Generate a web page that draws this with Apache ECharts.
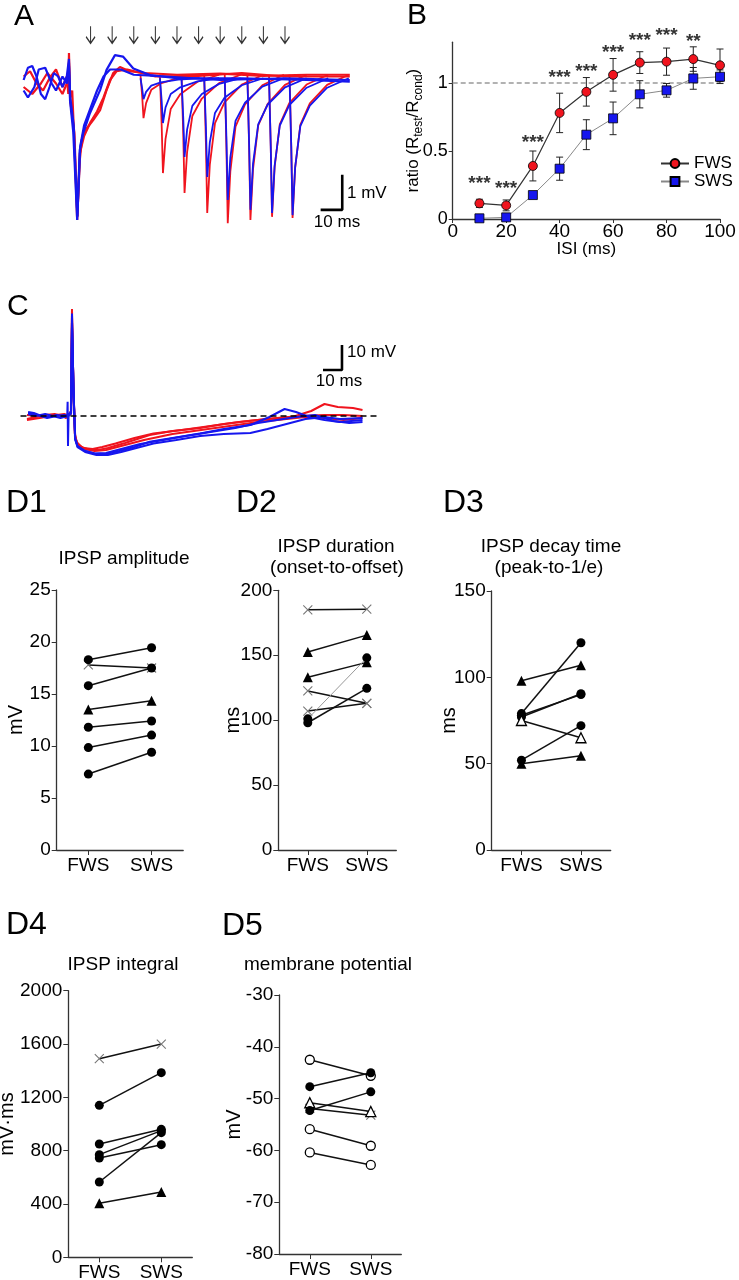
<!DOCTYPE html>
<html><head><meta charset="utf-8">
<script src="https://cdn.jsdelivr.net/npm/echarts@6/dist/echarts.min.js"></script>
<style>html,body{margin:0;padding:0;background:#fff}#c{width:739px;height:1280px}</style>
</head><body><div id="c"></div>
<script>
const FONT = "'Liberation Sans', Arial, Helvetica, sans-serif";
const RED = '#f0141e', BLUE = '#1616ee';

// ---------- Panel A: paired-pulse traces (t in ms, V in mV) ----------
const aISI = [10, 20, 30, 40, 50, 60, 70, 80, 90, 100];
const aRedCond = [
  [[-21,0.1],[-18,0.25],[-15,-0.1],[-12,-0.3],[-9,0.05],[-6,0.3],[-3,-0.2],[-1,0.1],[-0.3,-0.4],[0,0.77],[0.5,-0.5],[1.5,-0.3],[2.5,-1.8],[3.8,-4.0],[5,-2.3],[6,-1.7],[8,-1.4],[11.3,-1.14],[14.4,-0.86],[17.4,-0.29],[20.5,0.2],[23.6,0.37],[28,0.25],[35,0.2],[50,0.15],[70,0.18],[90,0.12],[110,0.15],[130,0.15]],
  [[-21,-0.2],[-17,-0.4],[-13,-0.1],[-10,0.2],[-6,-0.1],[-3,-0.4],[-1,-0.1],[0,0.5],[0.6,-0.6],[2.5,-1.5],[3.9,-3.9],[5,-2.1],[7,-1.6],[10,-1.2],[13,-0.9],[16,-0.5],[19,0.0],[22,0.25],[27,0.3],[40,0.1],[60,0.12],[80,0.2],[100,0.1],[130,0.1]]
];
const aBlueCond = [
  [[-21,0],[-19,0.35],[-17,0.4],[-15,0.1],[-13,-0.4],[-11,-0.55],[-9,-0.2],[-7,0.2],[-5,0.1],[-3,-0.2],[-1,0.1],[0,0.6],[0.5,-0.6],[2,-1.5],[3.8,-4.0],[5,-2.0],[6.6,-1.52],[9.7,-0.95],[14.4,-0.29],[17.4,0.29],[21.3,0.71],[25,0.67],[29.8,0.33],[37.5,0.14],[50,0.05],[80,0.05],[110,0],[130,-0.05]],
  [[-21,-0.3],[-19,-0.5],[-16,-0.2],[-14,0.3],[-11,0.35],[-8,-0.1],[-6,-0.3],[-3,0.1],[-1,-0.1],[0,0.4],[0.6,-0.5],[2.2,-1.3],[3.9,-3.9],[5.2,-1.9],[7,-1.3],[10,-0.8],[13,-0.3],[16,0.1],[19,0.3],[24,0.3],[30,0.15],[45,0.1],[70,0],[100,0.05],[130,0]]
];
const aRedDips = [
  [[33.1,0.15],[33.9,-0.47],[34.5,-1.09],[35.7,-0.66],[38.1,-0.28],[42.5,-0.10],[50.5,0.06],[60.5,0.15]],
  [[42.1,0.15],[42.9,-1.26],[43.5,-2.66],[44.7,-1.68],[47.1,-0.83],[51.5,-0.41],[59.5,-0.05],[69.5,0.15]],
  [[52.1,0.15],[52.9,-1.54],[53.5,-3.23],[54.7,-2.05],[57.1,-1.03],[61.5,-0.53],[69.5,-0.09],[79.5,0.15]],
  [[62.6,0.15],[63.4,-1.83],[64,-3.8],[65.2,-2.42],[67.6,-1.23],[72,-0.64],[80,-0.13],[90,0.15]],
  [[72.1,0.15],[72.9,-1.97],[73.5,-4.09],[74.7,-2.61],[77.1,-1.33],[81.5,-0.70],[89.5,-0.15],[99.5,0.15]],
  [[82.6,0.15],[83.4,-1.93],[84,-4.0],[85.2,-2.55],[87.6,-1.30],[92,-0.68],[100,-0.14],[110,0.15]],
  [[92.6,0.15],[93.4,-1.88],[94,-3.91],[95.2,-2.49],[97.6,-1.27],[102,-0.66],[110,-0.13],[120,0.15]],
  [[102.1,0.15],[102.9,-1.90],[103.5,-3.94],[104.7,-2.51],[107.1,-1.28],[111.5,-0.67],[119.5,-0.14],[129.5,0.15]]
];
const aBlueDips = [
  [[33.1,0.05],[33.9,-0.25],[34.5,-0.55],[35.7,-0.34],[38.1,-0.16],[42.5,-0.07],[50.5,0.01],[60.5,0.05]],
  [[42.1,0.05],[42.9,-0.59],[43.5,-1.23],[44.7,-0.78],[47.1,-0.40],[51.5,-0.21],[59.5,-0.04],[69.5,0.05]],
  [[52.1,0.05],[52.9,-1.08],[53.5,-2.2],[54.7,-1.41],[57.1,-0.74],[61.5,-0.40],[69.5,-0.11],[79.5,0.05]],
  [[62.6,0.05],[63.4,-1.36],[64,-2.77],[65.2,-1.78],[67.6,-0.94],[72,-0.51],[80,-0.15],[90,0.05]],
  [[72.1,0.05],[72.9,-1.69],[73.5,-3.43],[74.7,-2.21],[77.1,-1.17],[81.5,-0.65],[89.5,-0.19],[99.5,0.05]],
  [[82.6,0.05],[83.4,-1.83],[84,-3.71],[85.2,-2.39],[87.6,-1.27],[92,-0.70],[100,-0.21],[110,0.05]],
  [[92.6,0.05],[93.4,-1.88],[94,-3.8],[95.2,-2.45],[97.6,-1.30],[102,-0.72],[110,-0.22],[120,0.05]],
  [[102.1,0.05],[102.9,-1.91],[103.5,-3.86],[104.7,-2.49],[107.1,-1.32],[111.5,-0.73],[119.5,-0.22],[129.5,0.05]]
];

// ---------- Panel B: recovery ratio ----------
const bISI = [10, 20, 30, 40, 50, 60, 70, 80, 90, 100];
const bFWS = [0.115, 0.10, 0.39, 0.78, 0.935, 1.06, 1.15, 1.157, 1.176, 1.13];
const bFWSerr = [0.03, 0.04, 0.11, 0.145, 0.105, 0.12, 0.08, 0.10, 0.09, 0.12];
const bSWS = [0.005, 0.012, 0.176, 0.37, 0.62, 0.74, 0.917, 0.946, 1.034, 1.046];
const bSWSerr = [0, 0, 0.02, 0.085, 0.11, 0.12, 0.10, 0.05, 0.08, 0.05];
const bSigISI = [10, 20, 30, 40, 50, 60, 70, 80, 90];
const bSigLevel = [0.287, 0.25, 0.593, 1.07, 1.11, 1.25, 1.34, 1.38, 1.33];
const bSigText = ['***', '***', '***', '***', '***', '***', '***', '***', '**'];

// ---------- Panel C: IPSP traces (t in ms, V in mV rel. baseline) ----------
const cRed = [
  [[-21.6,-1.2],[-17,-0.4],[-12,0.4],[-7,0.8],[-3,0],[-1,-0.8],[0,0],[1.5,1],[2.1,42.8],[2.8,12],[3.6,-7],[4.5,-10.4],[7,-12.4],[11,-13.4],[16,-13.6],[21,-12.8],[30,-10.8],[43,-7.6],[55,-6],[69.5,-4.8],[82,-3.2],[95.8,-1.9],[110,-0.8],[122,0],[135,0.4],[145,0.4],[155,0]],
  [[-21.6,0.4],[-16,0],[-11,-0.4],[-6,0.4],[-2,0.8],[0,0.2],[1.6,2],[2.1,40],[2.9,10],[3.7,-8],[5,-11],[8,-12.8],[13,-13.2],[18,-12.4],[25,-11],[35,-8.8],[45,-7],[60,-5.6],[75,-4],[90,-2.4],[105,-1.2],[118,-0.4],[128,2],[135,4.8],[142,3.6],[150,3.2],[155,2.4]],
  [[-21.6,-1.6],[-15,-0.8],[-9,0],[-4,0.4],[0,0],[1.6,1],[2.1,38],[3,8],[3.8,-8.5],[5,-11.5],[9,-13.2],[14,-14],[20,-13.6],[28,-12],[40,-9.6],[55,-7.2],[70,-5.6],[85,-4],[100,-2.4],[115,-1.2],[125,-0.4],[135,-0.8],[145,-1.6],[155,-0.8]]
];
const cBlue = [
  [[-21,1.6],[-18,1.2],[-14,0],[-10,-0.4],[-6,0.4],[-2,-0.2],[-0.4,0],[-0.2,5.7],[0,-12],[0.3,0],[1.6,2],[2.1,41],[2.9,10],[3.7,-9],[5,-12],[9,-14],[14,-15],[20,-15.2],[27,-14],[35,-12.4],[43,-10.3],[55,-8.8],[69.5,-7],[82,-5.2],[96,-3.6],[106,-0.4],[114,2.8],[120,1.6],[127,-0.4],[135,-1.6],[143,-2.4],[155,-1.6]],
  [[-21,0.8],[-17,0],[-12,0.8],[-8,0],[-4,-0.8],[0,0],[1.6,1],[2.1,38],[3,8],[3.8,-9.5],[5,-12.5],[9,-14.4],[15,-15.6],[21,-15.6],[28,-14.4],[36,-12.8],[45,-11],[57,-9.6],[69.5,-8],[82,-7.2],[96,-6.8],[105,-5.2],[115,-3.2],[125,-1.2],[135,-0.4],[143,-1.2],[155,-0.8]],
  [[-21,1.2],[-16,0.4],[-11,-0.8],[-6,0],[-2,0.4],[0,0],[1.6,1],[2.1,36],[3,8],[3.8,-9],[5,-12],[9,-14],[14,-15],[20,-14.8],[28,-13.2],[38,-11.2],[50,-9.6],[62,-8],[75,-6.4],[88,-4.8],[100,-2.8],[110,-1.6],[120,-0.4],[130,0.4],[140,-2],[148,-2.8],[155,-2.4]]
];

// ---------- Panels D1-D5: paired values (FWS -> SWS) ----------
const dCats = ['FWS', 'SWS'];
const d1FWS = [18.3, 17.8, 15.8, 13.5, 11.8, 9.85, 7.3];
const d1SWS = [19.45, 17.5, 17.5, 14.35, 12.4, 11.05, 9.4];
const d1Kind = ['dot', 'cross', 'dot', 'tri', 'dot', 'dot', 'dot'];
const d2FWS = [185, 152.5, 133, 122.5, 107, 101, 98];
const d2SWS = [185.5, 165.5, 144.5, 113, 113, 148, 124.5];
const d2Kind = ['cross', 'tri', 'tri', 'cross', 'cross', 'dot', 'dot'];
const d3FWS = [98, 79, 78, 77, 75, 52, 50];
const d3SWS = [107, 120, 90, 90.5, 65, 72, 54.6];
const d3Kind = ['tri', 'dot', 'dot', 'dot', 'otri', 'dot', 'tri'];
const d4FWS = [1490, 1140, 850, 770, 745, 565, 405];
const d4SWS = [1600, 1385, 960, 950, 845, 935, 490];
const d4Kind = ['cross', 'dot', 'dot', 'dot', 'dot', 'dot', 'tri'];
const d5FWS = [-42.5, -47.7, -50.8, -51.9, -52.3, -55.9, -60.4];
const d5SWS = [-45.6, -45.0, -52.5, -53.2, -48.7, -59.1, -62.8];
const d5Kind = ['ocirc', 'dot', 'otri', 'cross', 'dot', 'ocirc', 'ocirc'];

// ---------- styles ----------
const MARK = {
  dot:   {symbol: 'circle', size: 9, item: {color: '#000'}},
  tri:   {symbol: 'triangle', size: 10, item: {color: '#000'}},
  ocirc: {symbol: 'circle', size: 9, item: {color: '#fff', borderColor: '#000', borderWidth: 1.3}},
  otri:  {symbol: 'triangle', size: 10, item: {color: '#fff', borderColor: '#000', borderWidth: 1.3}},
  cross: {symbol: 'path://M0,0L10,10M10,0L0,10', size: 9, item: {color: 'rgba(0,0,0,0)', borderColor: '#777', borderWidth: 1.1}}
};
const AX = '#333';

const grids = [
  {left: 23.6, top: 24, width: 326.2, height: 206.5},      // A
  {left: 452.7, top: 42.2, width: 267.3, height: 176.8},   // B
  {left: 18.6, top: 303.5, width: 362.9, height: 157.5},   // C
  {left: 56.7, top: 590, width: 126.5, height: 260},       // D1
  {left: 278.3, top: 590.3, width: 118, height: 259.7},    // D2
  {left: 491.7, top: 591, width: 119, height: 259},        // D3
  {left: 68.3, top: 990.7, width: 124, height: 266.6},     // D4
  {left: 279.3, top: 995, width: 122, height: 259}         // D5
].map(g => Object.assign({outerBoundsMode: 'none', containLabel: false}, g));

const xAxes = [], yAxes = [];
// A
xAxes.push({gridIndex: 0, type: 'value', min: -21, max: 130, show: false});
yAxes.push({gridIndex: 0, type: 'value', min: -4.3, max: 1.6, show: false});
// B
xAxes.push({gridIndex: 1, type: 'value', min: 0, max: 100, interval: 20,
  name: 'ISI (ms)', nameLocation: 'middle', nameGap: 22, nameMoveOverlap: false,
  nameTextStyle: {fontSize: 17, color: '#000', fontFamily: FONT},
  axisLine: {show: true, lineStyle: {color: AX, width: 1.3}},
  axisTick: {show: true, length: 4, lineStyle: {color: AX}},
  axisLabel: {fontSize: 19, color: '#000', fontFamily: FONT, margin: 3},
  splitLine: {show: false}});
yAxes.push({gridIndex: 1, type: 'value', min: 0, max: 1.3,
  name: 'ratio (R{sub|test}/R{sub|cond})', nameLocation: 'middle', nameGap: 28, nameRotate: 90, nameMoveOverlap: false,
  nameTextStyle: {fontSize: 17, color: '#000', fontFamily: FONT, lineHeight: 22,
    rich: {sub: {fontSize: 12, color: '#000', fontFamily: FONT, verticalAlign: 'bottom', lineHeight: 12}}},
  axisLine: {show: true, lineStyle: {color: AX, width: 1.3}},
  axisTick: {show: true, length: 4, lineStyle: {color: AX}, customValues: [0, 0.5, 1]},
  axisLabel: {fontSize: 18, color: '#000', fontFamily: FONT, margin: 5, customValues: [0, 0.5, 1]},
  splitLine: {show: false}});
// C
xAxes.push({gridIndex: 2, type: 'value', min: -26, max: 165, show: false});
yAxes.push({gridIndex: 2, type: 'value', min: -18, max: 45, show: false});
// D
function dAxes(g, min, max, interval, name, gap) {
  xAxes.push({gridIndex: g, type: 'category', data: dCats, boundaryGap: true,
    axisLine: {show: true, lineStyle: {color: AX, width: 1.3}},
    axisTick: {show: true, alignWithLabel: true, length: 5, lineStyle: {color: AX}},
    axisLabel: {fontSize: 19, color: '#000', fontFamily: FONT, margin: 6},
    splitLine: {show: false}});
  yAxes.push({gridIndex: g, type: 'value', min, max, interval,
    name, nameLocation: 'middle', nameGap: gap, nameRotate: 90, nameMoveOverlap: false,
    nameTextStyle: {fontSize: 20, color: '#000', fontFamily: FONT},
    axisLine: {show: true, lineStyle: {color: AX, width: 1.3}},
    axisTick: {show: true, length: 5, lineStyle: {color: AX}},
    axisLabel: {fontSize: 19, color: '#000', fontFamily: FONT, margin: 6, formatter: v => String(v)},
    splitLine: {show: false}});
}
dAxes(3, 0, 25, 5, 'mV', 30);
dAxes(4, 0, 200, 50, 'ms', 35);
dAxes(5, 0, 150, 50, 'ms', 32);
dAxes(6, 0, 2000, 400, 'mV·ms', 51);
dAxes(7, -80, -30, 10, 'mV', 35);

const series = [];
function trace(g, data, color, width, z) {
  series.push({type: 'line', xAxisIndex: g, yAxisIndex: g, data, showSymbol: false, symbol: 'none',
    lineStyle: {color, width}, silent: true, z: z || 2});
}
function segLine(g, data, width, z) {
  series.push({type: 'line', xAxisIndex: g, yAxisIndex: g, data, showSymbol: false, symbol: 'none',
    lineStyle: {color: '#000', width}, silent: true, z: z || 5});
}

// A traces
aRedCond.forEach(d => trace(0, d, RED, 2.2));
aRedDips.forEach(d => trace(0, d, RED, 1.8));
aBlueCond.forEach(d => trace(0, d, BLUE, 2.2, 3));
aBlueDips.forEach(d => trace(0, d, BLUE, 1.8, 3));
// A stimulus arrows
series.push({type: 'scatter', xAxisIndex: 0, yAxisIndex: 0, data: aISI.map(x => [x, 1.29]),
  symbol: 'path://M5,0L5,18M0,11L5,18L10,11', symbolSize: [9, 17], symbolKeepAspect: false,
  itemStyle: {color: 'rgba(0,0,0,0)', borderColor: '#000', borderWidth: 1.4}, silent: true, clip: false, z: 6});
// A scale bar (1 mV, 10 ms)
segLine(0, [[126.5, -2.71], [126.5, -3.71], [116.5, -3.71]], 2.6);

// B
series.push({type: 'line', xAxisIndex: 1, yAxisIndex: 1, data: [[0, 1], [100, 1]], showSymbol: false, symbol: 'none',
  lineStyle: {color: '#999', width: 1.3, type: [5, 3]}, silent: true, z: 1});
function errRender(params, api) {
  const x = api.value(0), lo = api.value(1), hi = api.value(2);
  if (hi - lo < 1e-6) return null;
  const a = api.coord([x, hi]), b = api.coord([x, lo]);
  const w = 3.5, st = {stroke: '#222', lineWidth: 1};
  return {type: 'group', children: [
    {type: 'line', shape: {x1: a[0], y1: a[1], x2: b[0], y2: b[1]}, style: st},
    {type: 'line', shape: {x1: a[0] - w, y1: a[1], x2: a[0] + w, y2: a[1]}, style: st},
    {type: 'line', shape: {x1: b[0] - w, y1: b[1], x2: b[0] + w, y2: b[1]}, style: st}
  ]};
}
series.push({type: 'custom', xAxisIndex: 1, yAxisIndex: 1, renderItem: errRender, silent: true, z: 2, clip: false,
  data: bISI.map((x, i) => [x, bSWS[i] - bSWSerr[i], bSWS[i] + bSWSerr[i]])});
series.push({type: 'custom', xAxisIndex: 1, yAxisIndex: 1, renderItem: errRender, silent: true, z: 2, clip: false,
  data: bISI.map((x, i) => [x, bFWS[i] - bFWSerr[i], bFWS[i] + bFWSerr[i]])});
series.push({name: 'SWS', type: 'line', xAxisIndex: 1, yAxisIndex: 1, data: bISI.map((x, i) => [x, bSWS[i]]),
  symbol: 'rect', symbolSize: 9, lineStyle: {color: '#888', width: 1},
  itemStyle: {color: BLUE, borderColor: '#000', borderWidth: 0.8}, silent: true, z: 3});
series.push({name: 'FWS', type: 'line', xAxisIndex: 1, yAxisIndex: 1, data: bISI.map((x, i) => [x, bFWS[i]]),
  symbol: 'circle', symbolSize: 9, lineStyle: {color: '#333', width: 1.2},
  itemStyle: {color: RED, borderColor: '#000', borderWidth: 0.8}, silent: true, z: 4});
series.push({type: 'scatter', xAxisIndex: 1, yAxisIndex: 1, clip: false, silent: true, z: 5,
  data: bSigISI.map((x, i) => [x, bSigLevel[i], bSigText[i]]), symbolSize: 1,
  itemStyle: {color: 'rgba(0,0,0,0)'},
  label: {show: true, position: 'inside', formatter: p => p.data[2], fontSize: 19, fontWeight: 'bold',
    color: '#000', fontFamily: FONT, offset: [0, 4]}});

// C traces
series.push({type: 'line', xAxisIndex: 2, yAxisIndex: 2, data: [[-25, 0], [164, 0]], showSymbol: false, symbol: 'none',
  lineStyle: {color: '#000', width: 1.4, type: [6, 4]}, silent: true, z: 6});
cRed.forEach(d => trace(2, d, RED, 2));
cBlue.forEach(d => trace(2, d, BLUE, 2, 3));
segLine(2, [[144.2, 28.4], [144.2, 18.4], [134.2, 18.4]], 2.6);

// D panels
function dPanel(g, fws, sws, kinds, thin) {
  fws.forEach((v, i) => {
    const m = MARK[kinds[i]];
    const isThin = thin.indexOf(i) >= 0;
    series.push({type: 'line', xAxisIndex: g, yAxisIndex: g, data: [v, sws[i]],
      symbol: m.symbol, symbolSize: m.size, showSymbol: true, itemStyle: m.item,
      lineStyle: {color: isThin ? '#999' : '#111', width: isThin ? 1 : 1.5},
      silent: true, z: kinds[i] === 'cross' ? 2 : 3});
  });
}
dPanel(3, d1FWS, d1SWS, d1Kind, []);
dPanel(4, d2FWS, d2SWS, d2Kind, [5]);
dPanel(5, d3FWS, d3SWS, d3Kind, []);
dPanel(6, d4FWS, d4SWS, d4Kind, []);
dPanel(7, d5FWS, d5SWS, d5Kind, []);

function txt(text, x, y, size, align) {
  return {type: 'text', x, y, silent: true,
    style: {text, fill: '#000', fontSize: size, fontFamily: FONT,
      align: align || 'left', textAlign: align || 'left', verticalAlign: 'middle', textVerticalAlign: 'middle'}};
}
const graphics = [
  txt('A', 14, 17, 30), txt('B', 407, 16, 30), txt('C', 7, 307, 30),
  txt('1 mV', 347, 193, 17), txt('10 ms', 337, 222, 17, 'center'),
  txt('10 mV', 347, 352, 17), txt('10 ms', 339, 381, 17, 'center'),
  txt('D1', 6, 503, 32), txt('D2', 236, 503, 32), txt('D3', 443, 503, 32),
  txt('D4', 6, 925, 32), txt('D5', 222, 926, 32),
  txt('IPSP amplitude', 124, 559, 19, 'center'),
  txt('IPSP duration', 336, 547, 19, 'center'), txt('(onset-to-offset)', 337, 568, 19, 'center'),
  txt('IPSP decay time', 551, 547, 19, 'center'), txt('(peak-to-1/e)', 549, 568, 19, 'center'),
  txt('IPSP integral', 123, 965, 19, 'center'),
  txt('membrane potential', 328, 965, 19, 'center')
];

const chart = echarts.init(document.getElementById('c'), null, {renderer: 'canvas'});
chart.setOption({
  animation: false,
  backgroundColor: '#fff',
  textStyle: {fontFamily: FONT},
  grid: grids,
  xAxis: xAxes,
  yAxis: yAxes,
  legend: {data: ['FWS', 'SWS'], orient: 'vertical', left: 655, top: 150, itemWidth: 28, itemHeight: 11,
    itemGap: 1, textStyle: {fontSize: 17, color: '#000', fontFamily: FONT}, selectedMode: false},
  graphic: {elements: graphics},
  series
});
</script></body></html>
